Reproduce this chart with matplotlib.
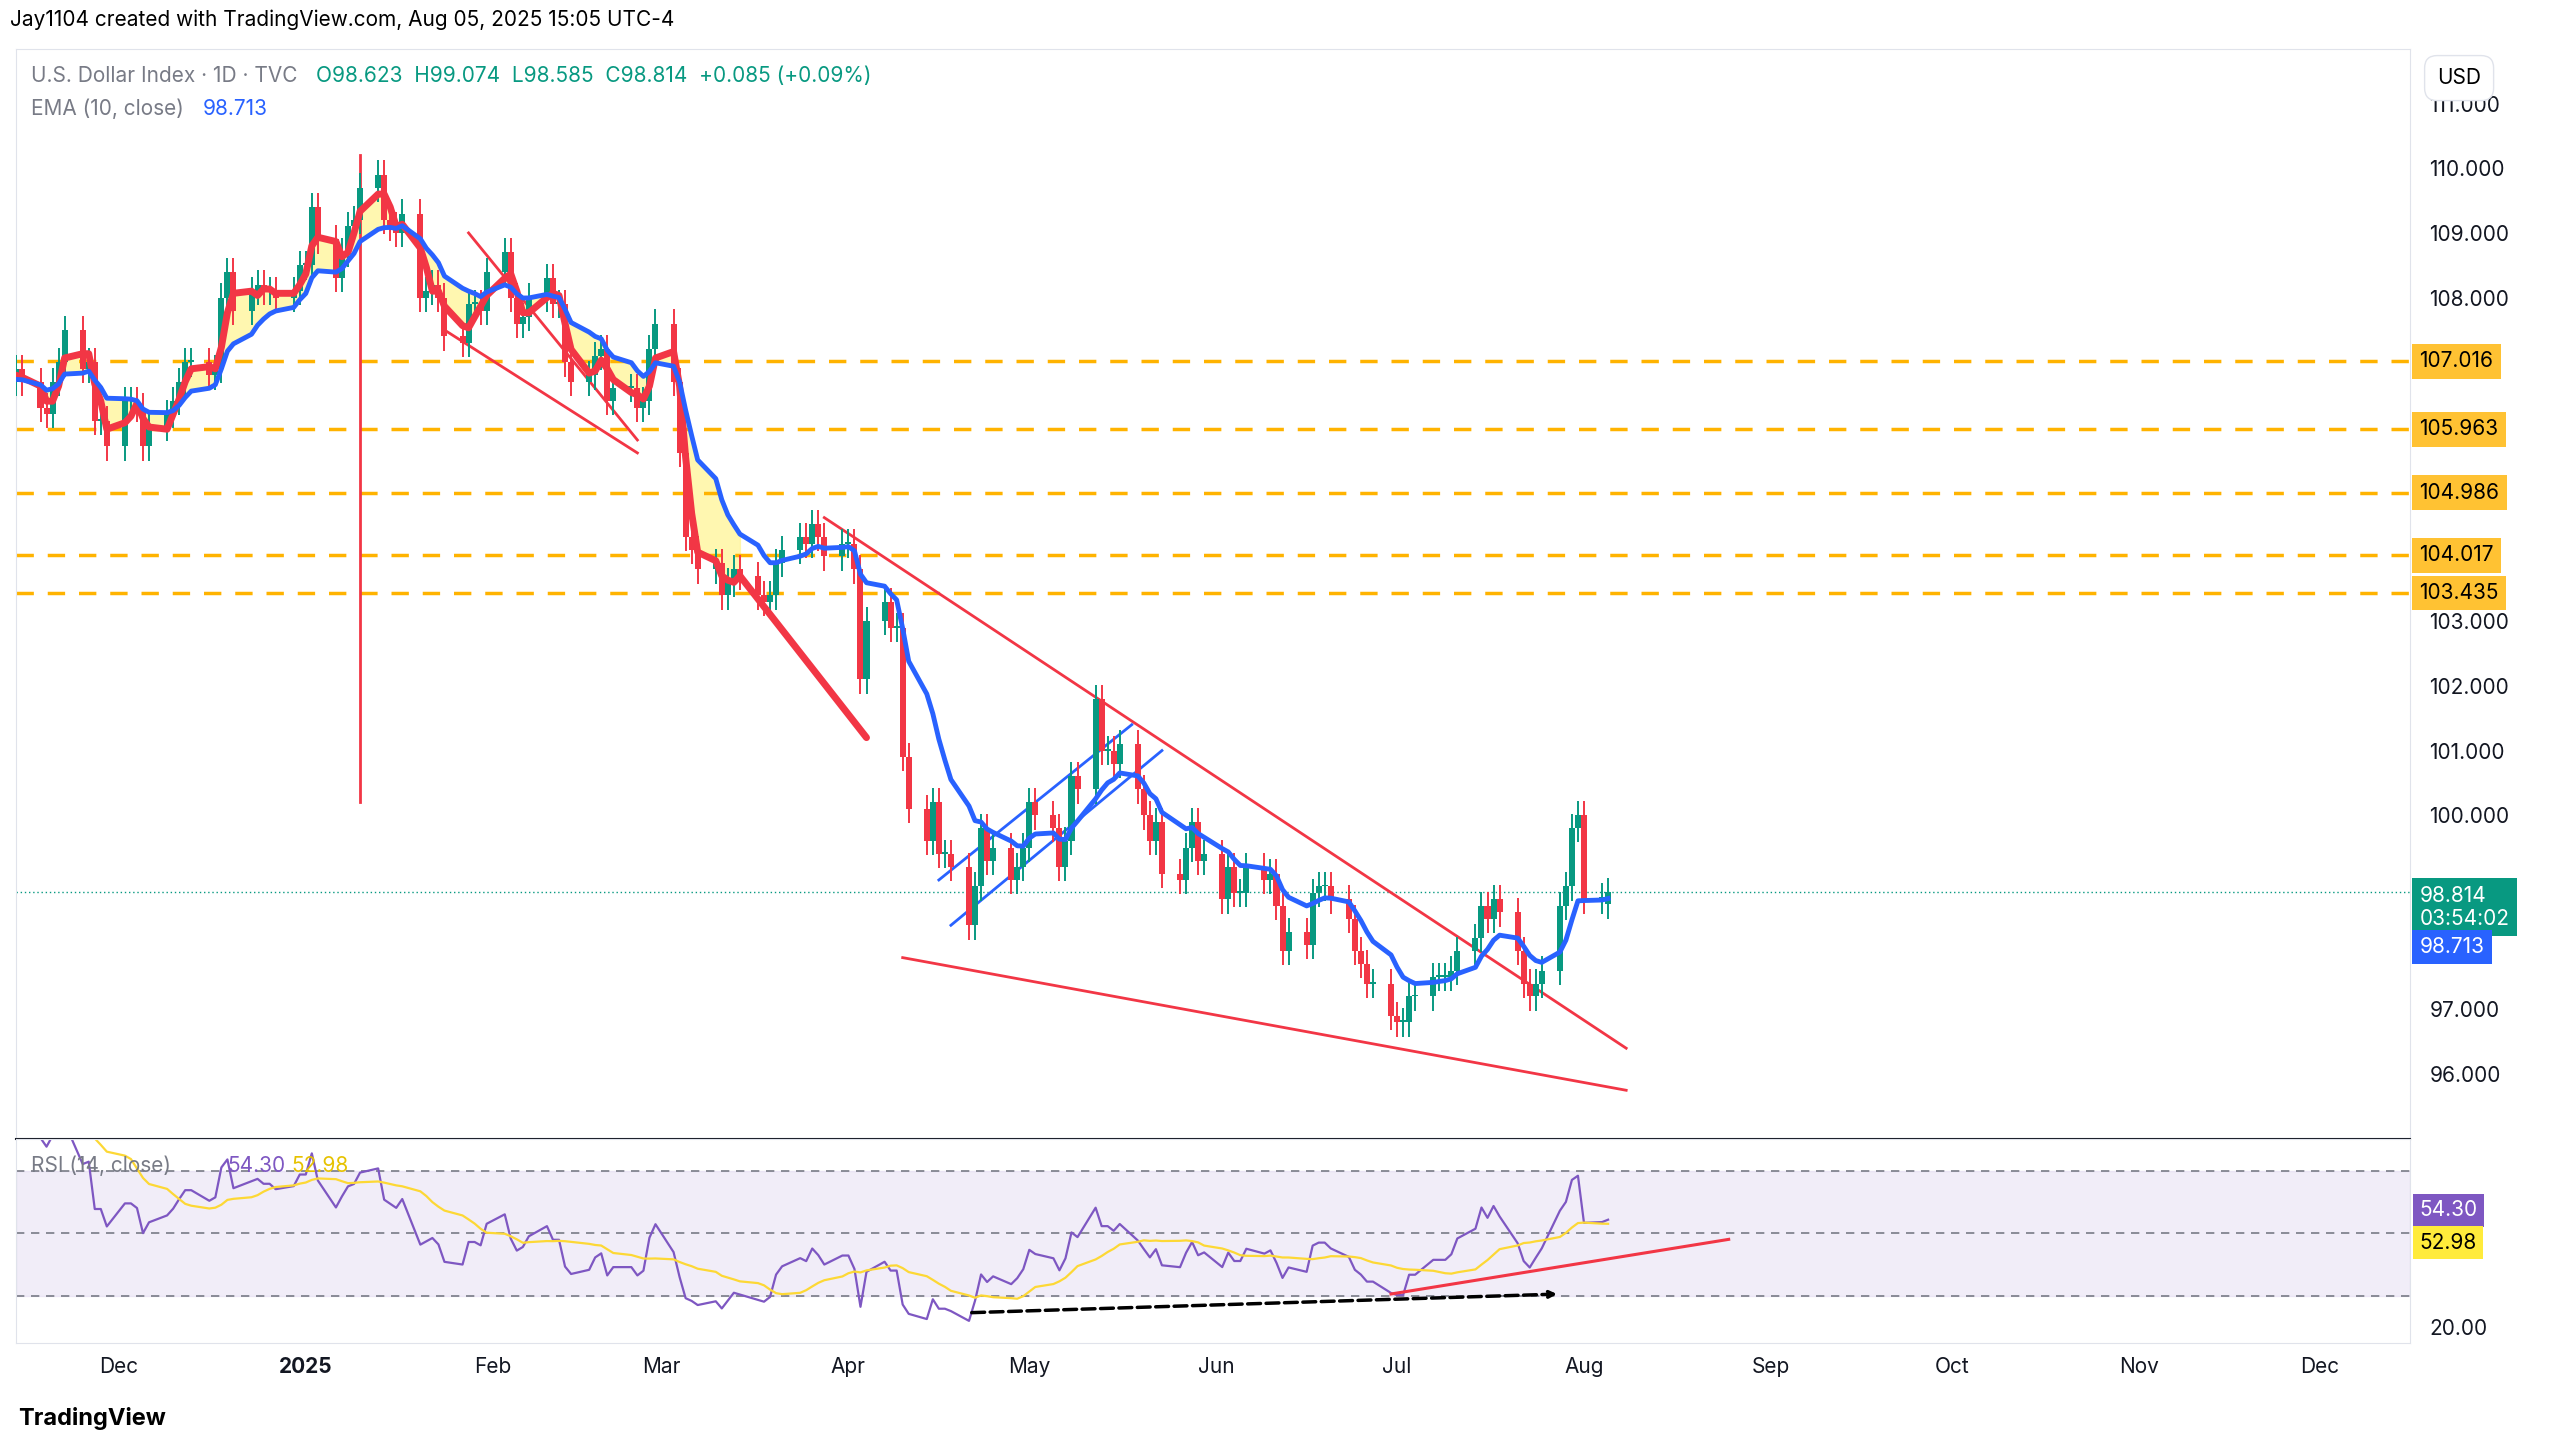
import numpy as np, pandas as pd, matplotlib
matplotlib.use("Agg")
import matplotlib.pyplot as plt
import matplotlib.dates as mdates

nov = [106.7,106.9,106.7,106.3,106.2,106.7,107.0,107.5,106.9,107.0,106.1,106.1,105.7]
dec = [106.4,106.4,106.3,105.7,106.0,106.2,106.4,106.7,107.0,107.0,106.8,106.9,108.0,108.4,107.8,108.1,108.2,108.1,108.1,108.0,108.1,108.5]
jan = [108.5,109.4,108.9,108.3,108.7,109.1,109.2,109.7,109.9,109.2,109.1,109.0,109.3,108.0,108.1,108.2,108.0,107.4,107.3,107.9,107.9,107.8,108.4]
feb = [108.7,108.0,107.6,107.7,108.0,108.3,107.9,107.9,107.0,106.7,106.8,107.1,107.2,106.4,106.6,106.6,106.3,106.4,107.2,107.6]
mar = [106.7,105.6,104.3,104.1,103.8,103.9,103.4,103.6,103.8,103.7,103.4,103.3,103.4,103.9,104.1,104.3,104.2,104.5,104.3,104.0,104.2]
apr = [104.2,103.8,102.1,103.0,103.3,102.9,102.9,100.9,100.1,99.6,100.2,99.4,99.4,99.2,98.3,98.9,99.8,99.3,99.5,99.0,99.2,99.5]
may = [100.2,100.0,99.8,99.2,99.6,100.6,100.4,101.8,101.0,101.0,100.8,101.1,100.4,100.0,99.6,99.9,99.1,99.0,99.5,99.9,99.3,99.4]
jun = [98.7,99.2,98.8,98.8,99.2,99.0,99.1,98.6,97.9,98.2,98.0,98.8,98.9,98.9,98.7,98.4,97.9,97.7,97.4,97.4,96.9]
jul = [96.8,96.8,97.2,97.2,97.5,97.5,97.5,97.6,97.9,98.1,98.6,98.4,98.7,98.5,97.9,97.4,97.2,97.4,97.6,98.6,98.9,99.8,100.0]
aug = [98.7,98.729,98.814]
closes = np.array(nov+dec+jan+feb+mar+apr+may+jun+jul+aug)
dates = pd.bdate_range("2024-11-13", periods=len(closes))
opens = np.r_[closes[0]-0.1, closes[:-2], 98.623]
levels = [107.016, 105.963, 104.986, 104.017, 103.435]
price_ticks = [96, 97, 100, 101, 102, 103, 108, 109, 110, 111]

GREEN, RED, BLUE = "#089981", "#F23645", "#2962FF"
x = mdates.date2num(dates)
s = pd.Series(closes)
ema = s.ewm(span=10, adjust=False).mean().values
d = s.diff()
up = d.clip(lower=0).ewm(alpha=1/14, adjust=False).mean()
dn = (-d.clip(upper=0)).ewm(alpha=1/14, adjust=False).mean()
rsi = (100 - 100/(1+up/dn)).values
rsima = pd.Series(rsi).rolling(14, min_periods=1).mean().values
brush = s.rolling(3, min_periods=1).mean().values

fig = plt.figure(figsize=(25.6, 14.46), dpi=100)
plt.rcParams["font.family"] = "Inter"
ax = fig.add_axes([0.0064, 0.212, 0.935, 0.754])
rx = fig.add_axes([0.0064, 0.071, 0.935, 0.141], sharex=ax)
def D(s_): return mdates.date2num(pd.Timestamp(s_))

pad = 0.22
for xi, o, c in zip(x, opens, closes):
    col = GREEN if c >= o else RED
    ax.vlines(xi, min(o, c)-pad, max(o, c)+pad, color=col, lw=1.4, zorder=3)
    ax.bar(xi, max(abs(c-o), 0.03), bottom=min(o, c), width=1.0, color=col, zorder=3)

m = dates <= pd.Timestamp("2025-03-14")
ax.fill_between(x[m], brush[m], ema[m], color="#FFF59D", alpha=0.8, zorder=1)
ax.plot(x[m], brush[m], color=RED, lw=5, zorder=4, solid_capstyle="round")
ax.plot([x[m][-1], D("2025-04-04")], [brush[m][-1], 101.2], color=RED, lw=5, zorder=4, solid_capstyle="round")
ax.plot(x, ema, color=BLUE, lw=3.5, zorder=5)

for lv in levels:
    ax.axhline(lv, color="#FFB300", lw=2.5, ls=(0, (5, 4)), zorder=2)
    ax.text(1.004, lv, f"{lv:.3f}", transform=ax.get_yaxis_transform(), ha="left", va="center",
            fontsize=15, color="black", bbox=dict(boxstyle="square,pad=0.35", fc="#FFC233", ec="none"), clip_on=False)
ax.axhline(closes[-1], color=GREEN, lw=1, ls=(0, (1, 2)))

ax.plot([D("2025-01-10"), D("2025-01-10")], [110.2, 100.2], color=RED, lw=2)
ax.plot([D("2025-03-28"), D("2025-08-08")], [104.6, 96.4], color=RED, lw=2)
ax.plot([D("2025-04-10"), D("2025-08-08")], [97.8, 95.75], color=RED, lw=2)
ax.plot([D("2025-04-16"), D("2025-05-18")], [99.0, 101.4], color=BLUE, lw=2)
ax.plot([D("2025-04-18"), D("2025-05-23")], [98.3, 101.0], color=BLUE, lw=2)
ax.plot([D("2025-01-28"), D("2025-02-25")], [109.0, 105.8], color=RED, lw=2)
ax.plot([D("2025-01-24"), D("2025-02-25")], [107.5, 105.6], color=RED, lw=2)

ax.set_ylim(94.99, 111.84)
ax.set_xlim(D("2024-11-14"), D("2025-12-16"))
ax.set_yticks(price_ticks)
ax.yaxis.tick_right()
ax.yaxis.set_major_formatter(matplotlib.ticker.FormatStrFormatter("%.3f"))
ax.tick_params(axis="y", length=0, labelsize=15, colors="#131722", pad=14)
ax.tick_params(axis="x", length=0, labelbottom=False)
for a in (ax, rx):
    for sp in a.spines.values(): sp.set_color("#E0E3EB")
ax.spines["bottom"].set_color("#131722")
ax.spines["bottom"].set_linewidth(1.5)
ax.text(1.004, closes[-1]+0.1, f"{closes[-1]:.3f}\n03:54:02", transform=ax.get_yaxis_transform(), va="top",
        ha="left", fontsize=15, color="white", bbox=dict(boxstyle="square,pad=0.35", fc=GREEN, ec="none"))
ax.text(1.004, ema[-1]-0.75, f"{ema[-1]:.3f}", transform=ax.get_yaxis_transform(), va="center",
        ha="left", fontsize=15, color="white", bbox=dict(boxstyle="square,pad=0.35", fc=BLUE, ec="none"))

fig.text(0.004, 0.986, "Jay1104 created with TradingView.com, Aug 05, 2025 15:05 UTC-4", fontsize=15, va="center")
ax.text(0.006, 0.975, "U.S. Dollar Index · 1D · TVC", transform=ax.transAxes, fontsize=15, color="#787B86", va="center")
ax.text(0.125, 0.975, f"O{opens[-1]:.3f}  H99.074  L98.585  C{closes[-1]:.3f}  +0.085 (+0.09%)",
        transform=ax.transAxes, fontsize=15, color=GREEN, va="center")
ax.text(0.006, 0.945, "EMA (10, close)", transform=ax.transAxes, fontsize=15, color="#787B86", va="center")
ax.text(0.078, 0.945, f"{ema[-1]:.3f}", transform=ax.transAxes, fontsize=15, color=BLUE, va="center")
fig.text(0.952, 0.946, "USD", fontsize=15, va="center", bbox=dict(boxstyle="round,pad=0.6", fc="white", ec="#E0E3EB"))

rx.axhspan(30, 70, color="#7E57C2", alpha=0.1)
for lv in (70, 50, 30):
    rx.axhline(lv, color="#787B86", lw=1.2, ls=(0, (5, 4)))
rx.plot(x[1:], rsi[1:], color="#7E57C2", lw=1.6)
rx.plot(x[1:], rsima[1:], color="#FDD835", lw=1.6)
rx.plot([D("2025-06-30"), D("2025-08-25")], [30.5, 48], color=RED, lw=2.2)
rx.annotate("", xy=(D("2025-07-28"), 30.5), xytext=(D("2025-04-21"), 24.5),
            arrowprops=dict(arrowstyle="->", color="black", lw=2.5, ls="--"))
rx.set_ylim(14.7, 80)
rx.set_yticks([20])
rx.yaxis.tick_right()
rx.yaxis.set_major_formatter(matplotlib.ticker.FormatStrFormatter("%.2f"))
rx.tick_params(axis="y", length=0, labelsize=15, colors="#131722", pad=14)
rx.text(0.006, 0.87, "RSI (14, close)", transform=rx.transAxes, fontsize=15, color="#787B86", va="center")
rx.text(0.088, 0.87, f"{rsi[-1]:.2f}", transform=rx.transAxes, fontsize=15, color="#7E57C2", va="center")
rx.text(0.115, 0.87, f"{rsima[-1]:.2f}", transform=rx.transAxes, fontsize=15, color="#E6C200", va="center")
rx.text(1.004, rsi[-1]+3, f"{rsi[-1]:.2f}", transform=rx.get_yaxis_transform(), va="center", ha="left",
        fontsize=15, color="white", bbox=dict(boxstyle="square,pad=0.3", fc="#7E57C2", ec="none"))
rx.text(1.004, rsima[-1]-6, f"{rsima[-1]:.2f}", transform=rx.get_yaxis_transform(), va="center", ha="left",
        fontsize=15, color="black", bbox=dict(boxstyle="square,pad=0.3", fc="#FFEB3B", ec="none"))

ticks = pd.date_range("2024-12-01", "2025-12-01", freq="MS")
rx.set_xticks(mdates.date2num(ticks))
rx.set_xticklabels(["2025" if t.month == 1 else t.strftime("%b") for t in ticks], fontsize=15, color="#131722")
rx.get_xticklabels()[1].set_fontweight("bold")
rx.tick_params(axis="x", length=0, pad=10)
fig.text(0.007, 0.019, "TradingView", fontsize=17, fontweight="bold", va="center")
fig.savefig("out.png", dpi=100, facecolor="white")
